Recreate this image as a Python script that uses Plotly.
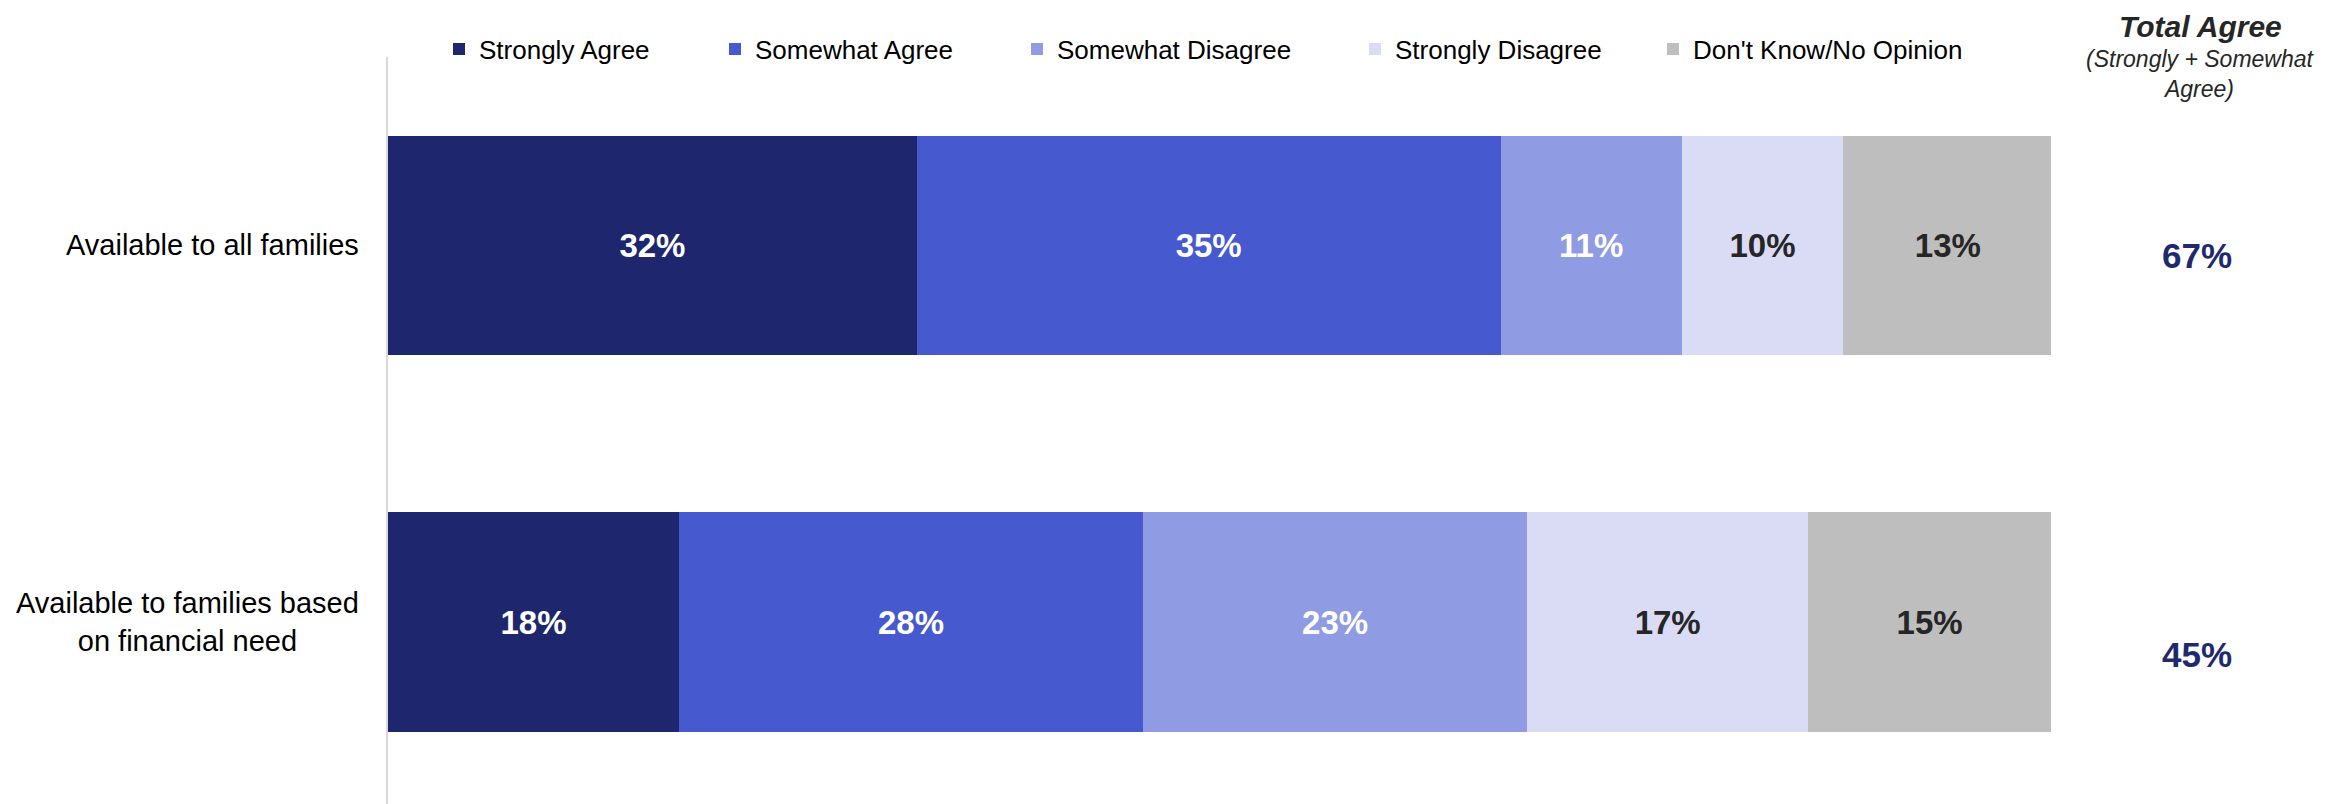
import plotly.graph_objects as go

# survey data (shares in %, labels shown rounded)
categories = ['Available to all families', 'Available to families based on financial need']
category_labels = ['Available to all families', 'Available to families based<br>on financial need']
responses = ['Strongly Agree', 'Somewhat Agree', 'Somewhat Disagree', 'Strongly Disagree', "Don't Know/No Opinion"]
strongly_agree = [31.8, 17.5]
somewhat_agree = [35.1, 27.9]
somewhat_disagree = [10.9, 23.1]
strongly_disagree = [9.7, 16.9]
dont_know = [12.6, 14.6]
total_agree = [67, 45]

series = [strongly_agree, somewhat_agree, somewhat_disagree, strongly_disagree, dont_know]
colours = ['#1E276D', '#4759CE', '#8F9BE2', '#DADCF5', '#BEBEBE']
text_colours = ['white', 'white', 'white', '#262626', '#262626']
legend_x = [431, 707, 1009, 1347, 1645]

FONT = 'Liberation Sans, Arial, sans-serif'
W, H = 2341, 804
OFF = 8  # page body margin
L, R, T, B = 388 - OFF, 2051 - OFF, 57 - OFF, 804 - OFF


# screen pixel position -> paper coordinates
def px_x(px):
    return (px - OFF - L) / (R - L)


def px_y(py):
    return (B - (py - OFF)) / (B - T)


fig = go.Figure()

for i, (name, vals) in enumerate(zip(responses, series)):
    fig.add_trace(go.Bar(
        x=vals,
        y=categories,
        orientation='h',
        name=name,
        marker=dict(color=colours[i], line=dict(width=0)),
        width=0.582,
        texttemplate='%{x:.0f}%',
        textposition='inside',
        insidetextanchor='middle',
        textangle=0,
        constraintext='none',
        textfont=dict(family=FONT, size=33, color=text_colours[i], weight='bold'),
        legend='legend' if i == 0 else f'legend{i+1}',
        showlegend=True,
        hoverinfo='skip',
    ))

# one legend per entry so each sits where the original puts it
legends = {}
for i, x in enumerate(legend_x):
    key = 'legend' if i == 0 else f'legend{i+1}'
    legends[key] = dict(
        orientation='h', x=x / W, xref='container', xanchor='left',
        y=1 - 41 / H, yref='container', yanchor='middle',
        font=dict(family=FONT, size=26, color='black'),
        bgcolor='rgba(0,0,0,0)', borderwidth=0, itemwidth=30,
    )

# row labels, centred like the original
row_shift = [-10, -32]
for cat, lab, tot, dy in zip(categories, category_labels, total_agree, row_shift):
    fig.add_annotation(
        x=0, xref='paper', y=cat, yref='y', xanchor='right', xshift=-27,
        text=lab, showarrow=False, align='center',
        font=dict(family=FONT, size=29, color='black'),
    )
    fig.add_annotation(
        x=px_x(2197), xref='paper', xanchor='center', y=cat, yref='y', yshift=dy,
        text=f'{tot}%', showarrow=False,
        font=dict(family=FONT, size=35, color='#1F2A6E', weight='bold'),
    )

# column header
fig.add_annotation(
    x=px_x(2200), xref='paper', xanchor='center', y=px_y(9), yref='paper', yanchor='top',
    text='<b><i>Total Agree</i></b>', showarrow=False, borderpad=0,
    font=dict(family=FONT, size=30, color='#262626'),
)
fig.add_annotation(
    x=px_x(2200), xref='paper', xanchor='center', y=px_y(74), yref='paper', yanchor='middle',
    text='<i>(Strongly + Somewhat<br>Agree)</i>', showarrow=False, align='center',
    font=dict(family=FONT, size=23, color='#262626'),
)

fig.update_layout(
    barmode='stack',
    width=W, height=H,
    showlegend=True,
    margin=dict(l=L, r=W - R, t=T, b=H - B, pad=0, autoexpand=False),
    plot_bgcolor='white', paper_bgcolor='white',
    font=dict(family=FONT),
    xaxis=dict(range=[0, 100], visible=False, fixedrange=True),
    yaxis=dict(
        type='category', categoryorder='array', categoryarray=categories,
        range=[1.483, -0.5], showticklabels=False, showgrid=False, zeroline=False,
        showline=True, linecolor='#D9D9D9', linewidth=2, ticks='',
    ),
    **legends,
)

fig.write_html('out.html')
